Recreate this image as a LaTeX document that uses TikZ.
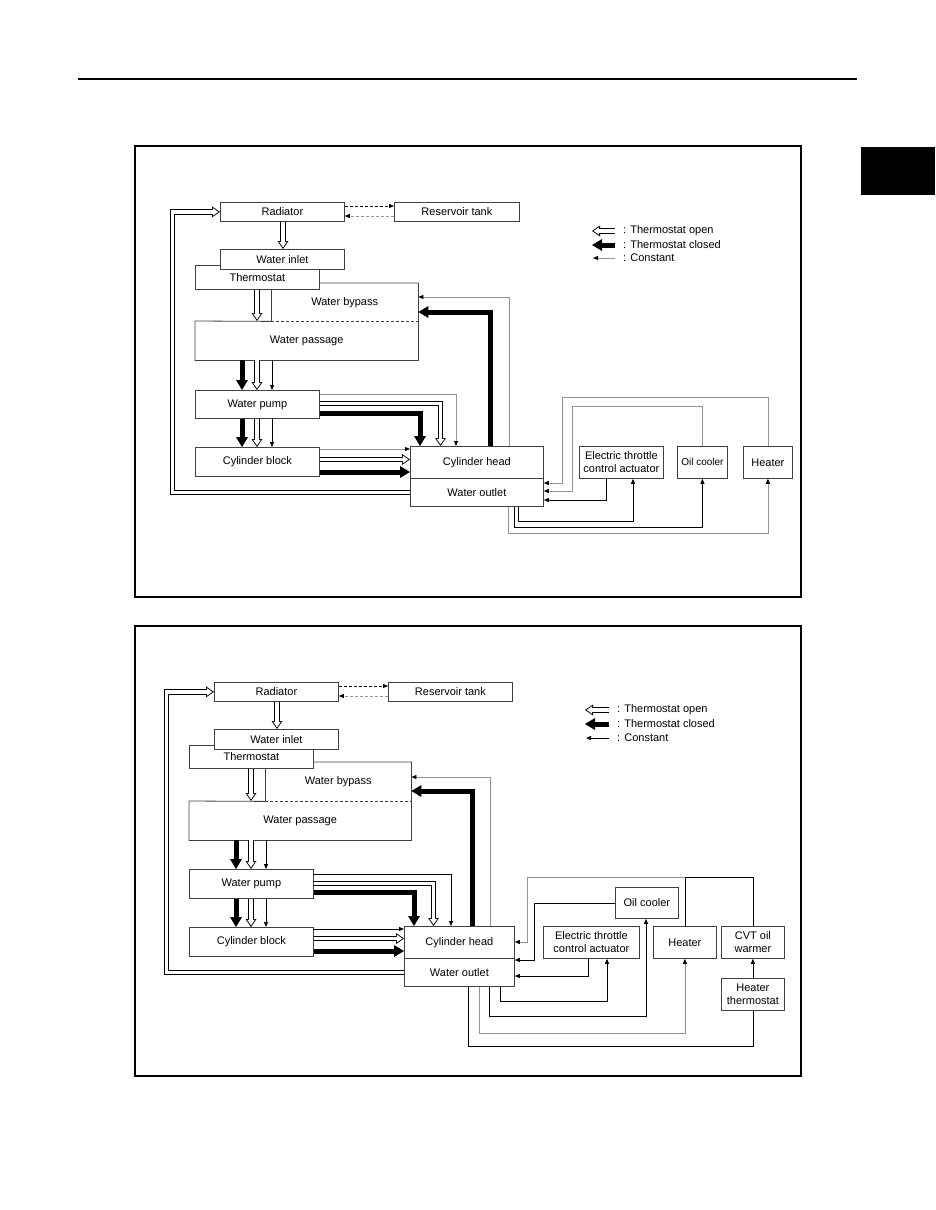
\documentclass[tikz,border=0pt]{standalone}
\usepackage{fontspec}
\setmainfont{Liberation Sans}
\usetikzlibrary{arrows.meta}
\newcommand\lbl{\fontsize{11}{13}\selectfont}
\newcommand\lblsm{\fontsize{10}{12}\selectfont}
\tikzset{
 wh/.style 2 args={minimum width=#1pt,minimum height=#2pt},
 box/.style={draw=black!75, line width=0.8pt, fill=white, inner sep=0pt, align=center, anchor=north west, font=\lbl},
 area/.style={inner sep=0pt, align=center, anchor=north west, font=\lbl},
 outl/.style={draw=black!75, line width=0.8pt},
 cn/.style={line width=0.8pt, -{Triangle[length=5pt,width=4pt,color=black]}},
 cgray/.style={cn, draw=black!42},
 plainline/.style={line width=0.8pt},
 thickarr/.style={line width=5pt, -{Triangle[length=10pt,width=12pt,line width=0pt]}},
 hollowout/.style={line width=5.6pt, -{Triangle[length=8pt,width=11pt,line width=0pt]}},
 hollowin/.style={line width=3.8pt, draw=white, shorten >=1.6pt, -{Triangle[length=5.5pt,width=7.6pt,line width=0pt,color=white]}},
 dsh/.style={dash pattern=on 3pt off 2pt},
 legtext/.style={anchor=west, inner sep=0pt, font=\lbl},
}
\newcommand\hollowpath[1]{\draw[hollowout] #1; \draw[hollowin] #1;}
\begin{document}
\begin{tikzpicture}[x=1pt,y=-1pt]
\fill[white] (0,0) rectangle (935,1210);
\useasboundingbox (0,0) rectangle (935,1210);
% page furniture
\draw[line width=2pt] (78,79) -- (857,79);
\fill[black] (861,147) rectangle (935,195);
\draw[line width=1.1pt] (135,146) rectangle (801,597);
\draw[line width=1.1pt] (135,626) rectangle (801,1076);

% ================= TOP DIAGRAM =================
\node[box, wh={124}{19}] (rad1) at (220,202) {Radiator};
\node[box, wh={125}{19}] (res1) at (394,202) {Reservoir tank};
\node[box, wh={124}{24}] (th1) at (195,265) {Thermostat};
\node[box, wh={124}{20}] (in1) at (220,249) {Water inlet};
\node[area, wh={147}{38}] (byp1) at (271,283) {Water bypass};
\node[area, wh={223}{39}] (pas1) at (195,321) {Water passage};
\node[box, wh={124}{28}] (pump1) at (195,390) {Water pump};
\node[box, wh={124}{29}] (blk1) at (195,447) {Cylinder block};
\node[box, wh={133}{32}] (ch1) at (410,446) {Cylinder head};
\node[box, wh={133}{28}] (wo1) at (410,478) {Water outlet};
\node[box, wh={84}{32}] (etc1) at (579,446) {Electric throttle\\control actuator};
\node[box, wh={50}{32}, font=\lblsm] (oil1) at (677,446) {Oil cooler};
\node[box, wh={49}{32}] (heat1) at (743,446) {Heater};

\draw[outl] (byp1.south west) -- (pas1.north west) -- (pas1.south west) -- (pas1.south east) -- (byp1.north east) -- (th1.east |- byp1.north);
\draw[outl] (byp1.north west |- th1.south) -- (byp1.south west);
\draw[outl, dsh] (byp1.south west) -- (byp1.south east);

\draw[cn,dsh] (rad1.east |- 0,206) -- (res1.west |- 0,206);
\draw[cgray,dsh] (res1.west |- 0,216) -- (rad1.east |- 0,216);
\hollowpath{(283,0 |- rad1.south) -- (283,0 |- in1.north)}
\hollowpath{(257,0 |- th1.south) -- (257,0 |- pas1.north)}
\draw[thickarr] (242,0 |- pas1.south) -- (242,0 |- pump1.north);
\hollowpath{(257,0 |- pas1.south) -- (257,0 |- pump1.north)}
\draw[cn] (272,0 |- pas1.south) -- (272,0 |- pump1.north);
\draw[thickarr] (242,0 |- pump1.south) -- (242,0 |- blk1.north);
\hollowpath{(257,0 |- pump1.south) -- (257,0 |- blk1.north)}
\draw[cn] (272,0 |- pump1.south) -- (272,0 |- blk1.north);
\draw[cgray] (pump1.east |- 0,394) -| (456,0 |- ch1.north);
\hollowpath{(pump1.east |- 0,403.5) -| (440.5,0 |- ch1.north)}
\draw[thickarr] (pump1.east |- 0,413) -| (420,0 |- ch1.north);
\draw[cgray] (blk1.east |- 0,449) -- (ch1.west |- 0,449);
\hollowpath{(blk1.east |- 0,459.5) -- (ch1.west |- 0,459.5)}
\draw[thickarr] (blk1.east |- 0,472) -- (ch1.west |- 0,472);
\hollowpath{(wo1.west) -| (172.5,0 |- rad1.west) -- (rad1.west)}
\draw[thickarr] (490,0 |- ch1.north) |- (byp1.east |- 0,312);
\draw[cgray] (509,0 |- ch1.north) |- (byp1.east |- 0,297);
\draw[cgray] (heat1.north) |- (562,397) |- (wo1.east |- 0,483);
\draw[cgray] (oil1.north) |- (572,406) |- (wo1.east |- 0,491);
\draw[cn] (606,0 |- etc1.south) |- (wo1.east |- 0,500);
\draw[cn] (518,0 |- wo1.south) |- (633,521) -- (633,0 |- etc1.south);
\draw[cn] (514,0 |- wo1.south) |- (oil1.south |- 0,527) -- (oil1.south);
\draw[cgray] (508,0 |- wo1.south) |- (heat1.south |- 0,533) -- (heat1.south);

% legend top
\coordinate (la1) at (615,231); \coordinate (lb1) at (592,231);
\coordinate (la2) at (615,245); \coordinate (lb2) at (592,245);
\coordinate (la3) at (615,258); \coordinate (lb3) at (593,258);
\hollowpath{(la1) -- (lb1)}
\draw[thickarr] (la2) -- (lb2);
\draw[cgray] (la3) -- (lb3);
\node[legtext] (lt1) at (623,231) {: Thermostat open};
\node[legtext] (lt2) at (623,245) {: Thermostat closed};
\node[legtext] (lt3) at (623,258) {: Constant};

% ================= BOTTOM DIAGRAM =================
\node[box, wh={124}{19}] (rad2) at (214,682) {Radiator};
\node[box, wh={124}{19}] (res2) at (388,682) {Reservoir tank};
\node[box, wh={124}{23}] (th2) at (189,745) {Thermostat};
\node[box, wh={124}{20}] (in2) at (214,729) {Water inlet};
\node[area, wh={146}{39}] (byp2) at (265,762) {Water bypass};
\node[area, wh={222}{39}] (pas2) at (189,801) {Water passage};
\node[box, wh={124}{29}] (pump2) at (189,869) {Water pump};
\node[box, wh={124}{29}] (blk2) at (189,927) {Cylinder block};
\node[box, wh={110}{32}] (ch2) at (404,926) {Cylinder head};
\node[box, wh={110}{28}] (wo2) at (404,958) {Water outlet};
\node[box, wh={96}{32}] (etc2) at (543,926) {Electric throttle\\control actuator};
\node[box, wh={63}{31}] (oil2) at (615,887) {Oil cooler};
\node[box, wh={63}{32}] (heat2) at (653,926) {Heater};
\node[box, wh={63}{32}] (cvt2) at (721,926) {CVT oil\\warmer};
\node[box, wh={63}{32}] (hth2) at (721,978) {Heater\\thermostat};

\draw[outl] (byp2.south west) -- (pas2.north west) -- (pas2.south west) -- (pas2.south east) -- (byp2.north east) -- (th2.east |- byp2.north);
\draw[outl] (byp2.north west |- th2.south) -- (byp2.south west);
\draw[outl, dsh] (byp2.south west) -- (byp2.south east);

\draw[cn,dsh] (rad2.east |- 0,686) -- (res2.west |- 0,686);
\draw[cgray,dsh] (res2.west |- 0,696) -- (rad2.east |- 0,696);
\hollowpath{(277,0 |- rad2.south) -- (277,0 |- in2.north)}
\hollowpath{(251,0 |- th2.south) -- (251,0 |- pas2.north)}
\draw[thickarr] (236,0 |- pas2.south) -- (236,0 |- pump2.north);
\hollowpath{(251,0 |- pas2.south) -- (251,0 |- pump2.north)}
\draw[cn] (266,0 |- pas2.south) -- (266,0 |- pump2.north);
\draw[thickarr] (236,0 |- pump2.south) -- (236,0 |- blk2.north);
\hollowpath{(251,0 |- pump2.south) -- (251,0 |- blk2.north)}
\draw[cn] (266,0 |- pump2.south) -- (266,0 |- blk2.north);
\draw[cn] (pump2.east |- 0,874) -| (451,0 |- ch2.north);
\hollowpath{(pump2.east |- 0,883.5) -| (433.5,0 |- ch2.north)}
\draw[thickarr] (pump2.east |- 0,892) -| (414,0 |- ch2.north);
\draw[cn] (blk2.east |- 0,929) -- (ch2.west |- 0,929);
\hollowpath{(blk2.east |- 0,938.5) -- (ch2.west |- 0,938.5)}
\draw[thickarr] (blk2.east |- 0,951) -- (ch2.west |- 0,951);
\hollowpath{(wo2.west) -| (166.5,0 |- rad2.west) -- (rad2.west)}
\draw[thickarr] (472,0 |- ch2.north) |- (byp2.east |- 0,791);
\draw[cgray] (490,0 |- ch2.north) |- (byp2.east |- 0,777);
\draw[plainline] (heat2.north) -- (heat2.north |- 0,877);
\draw[cgray] (cvt2.north) -- (cvt2.north |- 0,877) -- (527,877) -- (527,942) -- (ch2.east |- 0,942);
\draw[plainline] (cvt2.north) -- (cvt2.north |- 0,877) -- (heat2.north |- 0,877);
\draw[cn] (oil2.west) -| (534,960) -- (wo2.east |- 0,960);
\draw[cn] (588,0 |- etc2.south) |- (wo2.east |- 0,976);
\draw[cn] (500,0 |- wo2.south) |- (607,1001) -- (607,0 |- etc2.south);
\draw[cn] (489,0 |- wo2.south) |- (646,1016) -- (646,0 |- oil2.south);
\draw[cgray] (479,0 |- wo2.south) |- (heat2.south |- 0,1033) -- (heat2.south);
\draw[plainline] (468,0 |- wo2.south) |- (hth2.south |- 0,1046) -- (hth2.south);
\draw[cn] (hth2.north) -- (cvt2.south);

% legend bottom
\coordinate (ma1) at (609,710); \coordinate (mb1) at (585,710);
\coordinate (ma2) at (609,724); \coordinate (mb2) at (585,724);
\coordinate (ma3) at (609,738); \coordinate (mb3) at (586,738);
\hollowpath{(ma1) -- (mb1)}
\draw[thickarr] (ma2) -- (mb2);
\draw[cn] (ma3) -- (mb3);
\node[legtext] (mt1) at (617,710) {: Thermostat open};
\node[legtext] (mt2) at (617,724) {: Thermostat closed};
\node[legtext] (mt3) at (617,738) {: Constant};
\end{tikzpicture}
\end{document}
